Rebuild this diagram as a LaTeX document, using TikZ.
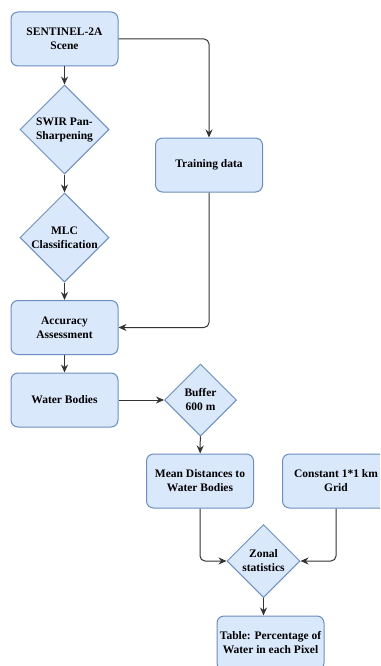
\documentclass[tikz,border=0pt]{standalone}
\usepackage{fontspec}
\setmainfont{Liberation Serif}
\usetikzlibrary{shapes.geometric,arrows.meta}
\definecolor{boxfill}{HTML}{DAE8FC}
\definecolor{boxline}{HTML}{6C8EBF}
\definecolor{wire}{HTML}{333333}
\begin{document}
\begin{tikzpicture}[x=1pt,y=-1pt,
  every node/.style={font=\fontsize{11.5}{14}\selectfont\bfseries, align=center},
  procbox/.style={draw=boxline, fill=boxfill, line width=1pt, rounded corners=7pt,
    minimum width=107pt, minimum height=54pt, inner sep=0},
  decide/.style={diamond, draw=boxline, fill=boxfill, line width=1pt, inner sep=0, aspect=1},
  flow/.style={draw=wire, line width=1pt, -{Stealth[length=8pt,width=7pt]}, rounded corners=5pt}
]
\useasboundingbox (0,0) rectangle (380,666);
\clip (0,0) rectangle (380,666);

% process steps
\node[procbox] (scene) at (64.5,39) {SENTINEL-2A\\Scene};
\node[decide, minimum size=89pt] (swir) at (64.5,129.5) {};
\node at (swir) {SWIR Pan-\\Sharpening};
\node[procbox] (train) at (209,165) {Training data};
\node[decide, minimum size=89pt] (mlc) at (64.5,237.5) {};
\node at (mlc) {MLC\\Classification};
\node[procbox] (acc) at (64.5,327.5) {Accuracy\\Assessment};
\node[procbox] (water) at (64.5,400) {Water Bodies};
\node[decide, minimum size=72pt] (buffer) at (200.5,400) {};
\node at (buffer) {Buffer\\600 m};
\node[procbox] (mean) at (200,481) {Mean Distances to\\Water Bodies};
\node[procbox] (grid) at (336,481) {Constant 1*1 km\\Grid};
\node[decide, minimum size=73pt] (zonal) at (263.5,561) {};
\node at (zonal) {Zonal\\statistics};
\node[procbox] (table) at (270.5,643) {Table: Percentage of\\Water in each Pixel};

% connectors
\draw[flow] (scene.east) -| (train.north);
\draw[flow] (scene) -- (swir);
\draw[flow] (swir) -- (mlc);
\draw[flow] (mlc) -- (acc);
\draw[flow] (train.south) |- (acc.east);
\draw[flow] (acc) -- (water);
\draw[flow] (water) -- (buffer);
\draw[flow] (buffer) -- (mean);
\draw[flow] (mean.south) |- (zonal.west);
\draw[flow] (grid.south) |- (zonal.east);
\draw[flow] (zonal.south) -- (zonal.south |- table.north);
\end{tikzpicture}
\end{document}
